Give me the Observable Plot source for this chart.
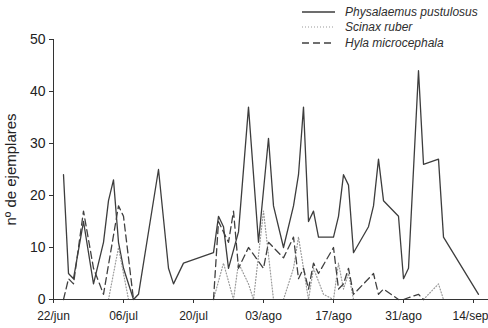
<!DOCTYPE html>
<html>
<head>
<meta charset="utf-8">
<script src="https://cdn.jsdelivr.net/npm/d3@7"></script>
<script src="https://cdn.jsdelivr.net/npm/@observablehq/plot@0.6"></script>
<style>
  body { margin: 0; background: #fff; }
  #chart { position: relative; width: 488px; height: 328px; overflow: hidden;
           font-family: "Liberation Sans", Arial, sans-serif; }
  #chart svg.plot { position: absolute; left: 0; top: 0; }
  #legend { position: absolute; left: 302px; top: 4px; font-style: italic;
            font-size: 12px; color: #2e2e2e; z-index: 2; }
  #legend .row { display: flex; align-items: center; height: 15.5px; white-space: nowrap; }
  #legend .row svg { width: 33px; height: 4px; margin-right: 10px; display: block; }
</style>
</head>
<body>
<div id="chart"><div id="legend"></div></div>
<script>
// Sampling days, counted from 22 June (day 0), and counts per night for each species
const physalaemusDays   = [2,3,4,6,8,10,11,12,13,14,16,17,21,23,24,26,32,33,34,35,37,39,41,43,44,46,48,49,50,51,52,53,56,57,58,59,60,63,64,65,66,69,70,71,73,74,77,78,85];
const physalaemusCounts = [24,5,4,15,3,11,19,23,11,6,0,1,25,6,3,7,9,16,14,6,13,37,11,31,18,10,18,24,37,15,17,12,12,16,24,22,9,14,18,27,19,16,4,6,44,26,27,12,1];

const scinaxDays   = [2,11,13,15,32,34,36,37,39,40,42,44,46,48,49,51,52,54,56,57,58,59,60,74,77,78];
const scinaxCounts = [0,0,10,0,0,7,0,7,3,0,17,0,0,6,12,0,6,1,0,7,2,5,0,0,3,0];

const hylaDays   = [2,3,4,6,8,10,13,14,16,32,33,34,35,36,37,39,42,43,46,48,49,50,51,52,53,56,57,58,59,60,64,65,66,69,70,73,74];
const hylaCounts = [0,4,3,17,6,1,18,16,0,0,15,13,11,17,6,10,6,11,8,12,4,6,2,7,5,10,2,3,6,1,5,1,2,0,0,1,0];

// Axis ticks
const xTickDays   = [0, 14, 28, 42, 56, 70, 84];
const xTickLabels = ["22/jun", "06/jul", "20/jul", "03/ago", "17/ago", "31/ago", "14/sep"];
const yTicks      = [0, 10, 20, 30, 40, 50];

const series = [
  {name: "Physalaemus pustulosus", days: physalaemusDays, counts: physalaemusCounts, stroke: "#3d3d3d", width: 1.3, dash: null},
  {name: "Scinax ruber",           days: scinaxDays,      counts: scinaxCounts,      stroke: "#9a9a9a", width: 1.2, dash: "1,2"},
  {name: "Hyla microcephala",      days: hylaDays,        counts: hylaCounts,        stroke: "#404040", width: 1.3, dash: "7,4"}
];

// One row per sample; a gap row between two consecutive zero counts keeps
// stretches with no animals on the baseline instead of tracing over it
function toRows(s) {
  const out = [];
  s.days.forEach((d, i) => {
    if (i > 0 && s.counts[i] === 0 && s.counts[i - 1] === 0) {
      out.push({species: s.name, day: d, count: NaN});
    }
    out.push({species: s.name, day: d, count: s.counts[i]});
  });
  return out;
}

const chart = Plot.plot({
  width: 488,
  height: 328,
  marginLeft: 53,
  marginRight: 0,
  marginTop: 39,
  marginBottom: 29,
  x: {domain: [0, 87]},
  y: {domain: [0, 50]},
  style: {fontFamily: '"Liberation Sans", Arial, sans-serif', color: "#222", background: "transparent", overflow: "visible"},
  marks: [
    Plot.axisX({ticks: xTickDays, tickFormat: d => xTickLabels[xTickDays.indexOf(d)], tickSize: 4, tickPadding: 8, fontSize: 12, label: null, stroke: "#333"}),
    Plot.axisY({ticks: yTicks, tickSize: 4, tickPadding: 4, fontSize: 14, label: null, stroke: "#333"}),
    Plot.axisY({ticks: [], label: "nº de ejemplares", labelAnchor: "center", labelArrow: false, labelOffset: 48, fontSize: 15}),
    ...series.map(s => Plot.line(toRows(s), {
      x: "day", y: "count", stroke: s.stroke, strokeWidth: s.width, strokeDasharray: s.dash
    })),
    Plot.ruleY([0], {stroke: "#333"}),
    Plot.ruleX([0], {stroke: "#333"})
  ]
});
document.getElementById("chart").appendChild(chart);

// Keep the last date label inside the page edge
const xLabels = chart.querySelectorAll('g[aria-label="x-axis tick label"] text');
if (xLabels.length) {
  xLabels[xLabels.length - 1].setAttribute("dx", "-3");
}

// Legend in the upper right corner
const legend = d3.select("#legend");
series.forEach(s => {
  const row = legend.append("div").attr("class", "row");
  const sw = row.append("svg").attr("viewBox", "0 0 33 4");
  sw.append("line").attr("x1", 0).attr("x2", 33).attr("y1", 2).attr("y2", 2)
    .attr("stroke", s.stroke).attr("stroke-width", s.width)
    .attr("stroke-dasharray", s.dash);
  row.append("span").text(s.name);
});
</script>
</body>
</html>
